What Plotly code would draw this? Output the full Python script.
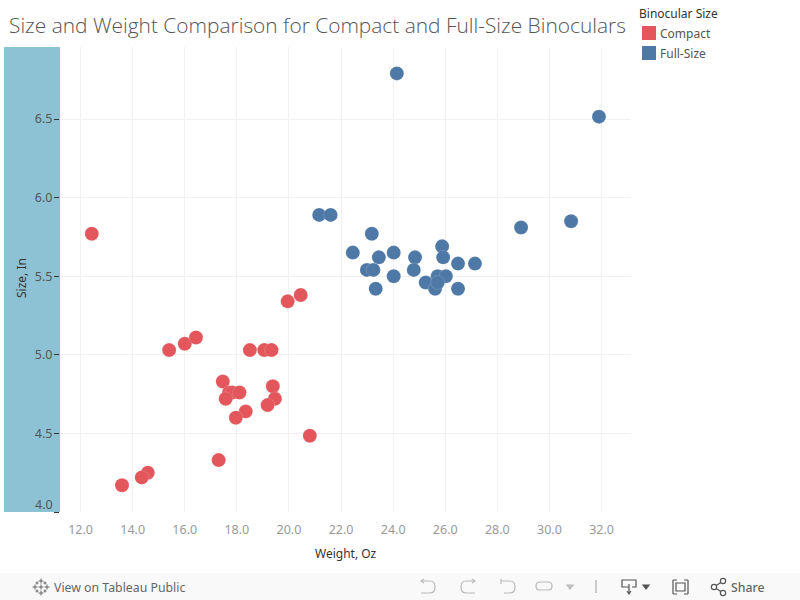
import plotly.graph_objects as go

compact_weight = [12.43, 19.95, 20.45, 15.40, 16.00, 16.43, 18.50, 19.05, 19.33, 17.46, 17.70, 17.83, 18.10, 17.57, 19.38, 19.46, 19.18, 18.34, 17.96, 20.80, 17.30, 14.58, 14.35, 13.59]
compact_size = [5.77, 5.34, 5.38, 5.03, 5.07, 5.11, 5.03, 5.03, 5.03, 4.83, 4.76, 4.76, 4.76, 4.72, 4.80, 4.72, 4.68, 4.64, 4.60, 4.485, 4.33, 4.25, 4.22, 4.17]
full_weight = [24.14, 31.90, 21.16, 21.60, 23.18, 22.45, 24.02, 23.45, 22.99, 23.24, 24.02, 23.33, 24.84, 24.79, 28.91, 30.83, 25.88, 25.92, 26.49, 27.14, 26.49, 25.25, 25.61, 25.71, 26.02, 25.71]
full_size = [6.79, 6.515, 5.89, 5.89, 5.77, 5.65, 5.65, 5.62, 5.54, 5.54, 5.50, 5.42, 5.62, 5.54, 5.81, 5.85, 5.69, 5.62, 5.58, 5.58, 5.42, 5.46, 5.42, 5.50, 5.50, 5.46]
x_ticks = [12, 14, 16, 18, 20, 22, 24, 26, 28, 30, 32]
y_ticks = [4.0, 4.5, 5.0, 5.5, 6.0, 6.5]

RED, BLUE = "#e3565b", "#4e79a7"
L, R, T, B = 60, 631, 47, 512
FONT = "Noto Sans"
px = lambda v: (v - L) / (R - L)
py = lambda v: (B - v) / (B - T)

fig = go.Figure()
for name, xs, ys, col in [("Compact", compact_weight, compact_size, RED), ("Full-Size", full_weight, full_size, BLUE)]:
    fig.add_trace(go.Scatter(x=xs, y=ys, mode="markers", name=name, showlegend=False, cliponaxis=False,
                             marker=dict(color=col, size=14, line=dict(color="rgba(255,255,255,0.25)", width=0.6))))

shapes = [
    dict(type="rect", xref="paper", yref="paper", x0=px(4), x1=px(60), y0=py(512), y1=py(47),
         fillcolor="#8cc2d3", line_width=0, layer="below"),
    dict(type="rect", xref="paper", yref="paper", x0=px(0), x1=px(800), y0=py(600), y1=py(573),
         fillcolor="#f9f9f9", line_width=0, layer="below"),
    dict(type="rect", xref="paper", yref="paper", x0=px(642), x1=px(656), y0=py(40), y1=py(26),
         fillcolor=RED, line_width=0),
    dict(type="rect", xref="paper", yref="paper", x0=px(642), x1=px(656), y0=py(60), y1=py(46),
         fillcolor=BLUE, line_width=0),
]
def path(d, color="#b9b9b9", width=1.2, fill=None):
    toks, out, isx = d.split(), [], True
    for t in toks:
        if t.isalpha():
            out.append(t)
        else:
            out.append(str(px(float(t))) if isx else str(py(float(t))))
            isx = not isx
    s = dict(type="path", xref="paper", yref="paper", path=" ".join(out), line=dict(color=color, width=width))
    if fill:
        s["fillcolor"] = fill
    shapes.append(s)

# toolbar icons
for cx, cy in [(41, 581), (41, 593), (35, 587), (47, 587), (37, 583), (45, 583), (37, 591), (45, 591), (41, 587)]:
    r = 2.5 if (cx, cy) in [(41, 581), (41, 593), (35, 587), (47, 587), (41, 587)] else 1.5
    path(f"M {cx-r} {cy} L {cx+r} {cy} M {cx} {cy-r} L {cx} {cy+r}", color="#666666", width=1)
path("M 421 581 L 430 581 Q 435 581 435 587 Q 435 593 430 593 L 421 593")
path("M 424 579 L 421 581 L 424 583")
path("M 475 581 L 466 581 Q 461 581 461 587 Q 461 593 466 593 L 475 593")
path("M 472 579 L 475 581 L 472 583")
path("M 501 581 L 510 581 Q 515 581 515 587 Q 515 593 510 593 L 504 593")
path("M 501 579 L 501 584")
path("M 540 582 L 548 582 Q 552 582 552 586 Q 552 590 548 590 L 540 590 Q 536 590 536 586 Q 536 582 540 582")
path("M 567 585 L 573 585 L 570 589 Z", fill="#c8c8c8")
path("M 596 580 L 596 593", color="#aaaaaa")
path("M 629 587 L 622 587 L 622 580 L 636 580 L 636 587 L 632 587", color="#555555")
path("M 629 584 L 629 593 M 627 591 L 629 594 L 631 591", color="#555555")
path("M 643 585 L 649 585 L 646 589 Z", color="#555555", fill="#555555")
path("M 673 580 L 673 594 M 673 580 L 677 580 M 673 594 L 677 594 M 688 580 L 688 594 M 688 580 L 684 580 M 688 594 L 684 594", color="#555555")
path("M 676 583 L 685 583 L 685 591 L 676 591 Z", color="#555555")
path("M 714 587 L 723 581 M 714 587 L 723 593", color="#555555")
for cx, cy, r in [(714, 587, 2.6), (723, 581, 2.6), (723, 593, 2.6)]:
    path(f"M {cx-r} {cy} Q {cx-r} {cy-r} {cx} {cy-r} Q {cx+r} {cy-r} {cx+r} {cy} Q {cx+r} {cy+r} {cx} {cy+r} Q {cx-r} {cy+r} {cx-r} {cy} Z",
         color="#555555", fill="#ffffff")

def note(text, x, y, size=12, color="#555555", anchor="left", angle=0, weight=None):
    fig.add_annotation(text=text, xref="paper", yref="paper", x=px(x), y=py(y), showarrow=False,
                       xanchor=anchor, yanchor="middle", textangle=angle, borderpad=0, borderwidth=0,
                       font=dict(family=FONT, size=size, color=color, weight=weight))

note("Size, In", 21, 278, size=12, color="#333333", anchor="center", angle=-90)
note("Weight, Oz", 346, 553, size=12, color="#333333", anchor="center")
note("4.0", 53, 504, size=12.5, color="#555555", anchor="right")
note("Binocular Size", 639, 14, size=12, color="#333333")
note("Compact", 660, 33, size=12, color="#555555")
note("Full-Size", 660, 53, size=12, color="#555555")
note("View on Tableau Public", 54, 587, size=12.3, color="#666666")
note("Share", 731, 587, size=12.3, color="#666666", weight=500)

fig.update_layout(
    width=800, height=600, paper_bgcolor="white", plot_bgcolor="white",
    margin=dict(l=L, r=800 - R, t=T, b=600 - B, pad=0), showlegend=False,
    shapes=shapes,
    title=dict(text="Size and Weight Comparison for Compact and Full-Size Binoculars", x=9 / 800, xanchor="left",
               y=1 - 26 / 600, yanchor="middle", font=dict(family="Open Sans", size=20.9, color="#555555", weight=300)),
    xaxis=dict(range=[11.21, 33.13], tickvals=x_ticks, ticktext=[f"{v:.1f}" for v in x_ticks],
               showgrid=True, gridcolor="#f1f1f1", gridwidth=1, zeroline=False, showline=False, ticks="",
               ticklabelstandoff=8, tickfont=dict(family=FONT, size=12.5, color="#999999")),
    yaxis=dict(range=[4.0, 6.958], tickvals=y_ticks, ticktext=["" if v == 4.0 else f"{v:.1f}" for v in y_ticks],
               showgrid=True, gridcolor="#f1f1f1", gridwidth=1, zeroline=False, showline=False, ticks="outside",
               ticklen=5, tickcolor="#333333", tickwidth=1, ticklabelstandoff=-1,
               tickfont=dict(family=FONT, size=12.5, color="#555555")),
)
fig.write_html("out.html", config=dict(displayModeBar=False),
               post_script="document.body.style.margin='0';document.body.style.overflow='hidden';")
